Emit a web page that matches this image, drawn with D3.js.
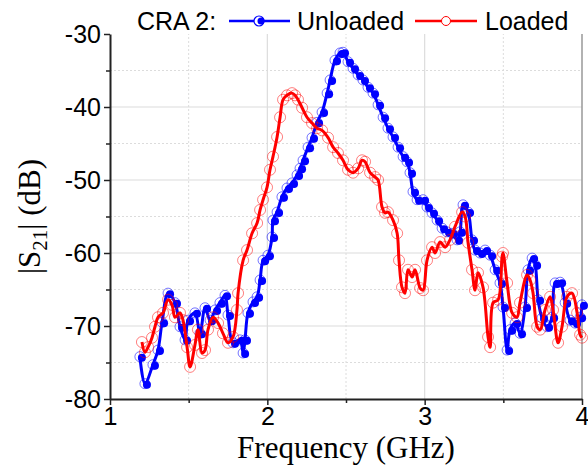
<!DOCTYPE html>
<html>
<head>
<meta charset="utf-8">
<script src="https://cdn.jsdelivr.net/npm/d3@7"></script>
<style>
  body { margin: 0; background: #fff; }
  svg { display: block; }
</style>
</head>
<body>
<svg width="588" height="468"></svg>
<script>
// Unloaded (blue)
var unloadedFreq = [1.19, 1.222, 1.273, 1.305, 1.331, 1.369, 1.413, 1.445, 1.477, 1.496, 1.540, 1.572, 1.604, 1.636, 1.668, 1.699, 1.731, 1.750, 1.782, 1.826, 1.846, 1.858, 1.877, 1.909, 1.935, 1.954, 1.973, 2.004, 2.030, 2.036, 2.062, 2.093, 2.125, 2.157, 2.189, 2.208, 2.227, 2.259, 2.284, 2.316, 2.348, 2.380, 2.399, 2.430, 2.462, 2.481, 2.513, 2.545, 2.577, 2.608, 2.640, 2.672, 2.704, 2.736, 2.767, 2.799, 2.831, 2.863, 2.888, 2.907, 2.926, 2.952, 2.990, 3.015, 3.047, 3.079, 3.111, 3.142, 3.174, 3.206, 3.225, 3.244, 3.276, 3.301, 3.320, 3.352, 3.384, 3.416, 3.448, 3.479, 3.498, 3.524, 3.543, 3.575, 3.606, 3.638, 3.657, 3.683, 3.702, 3.721, 3.746, 3.778, 3.810, 3.829, 3.861, 3.893, 3.924, 3.956, 3.988, 4.0];
var unloadedS21 = [-74.2, -77.9, -75.3, -73.3, -69.5, -65.5, -66.8, -70.1, -71.9, -69.2, -68.2, -71.0, -67.5, -69.2, -67.8, -66.8, -65.8, -68.5, -72.3, -71.9, -73.7, -71.9, -68.2, -66.7, -66.0, -63.7, -61.0, -60.3, -57.8, -55.5, -54.4, -52.3, -51.1, -50.4, -49.3, -48.4, -47.3, -45.5, -44.2, -42.1, -40.7, -38.1, -36.3, -33.6, -32.6, -32.5, -33.8, -34.7, -35.6, -36.3, -37.3, -38.1, -39.7, -41.4, -42.9, -44.1, -45.5, -46.8, -47.5, -49.0, -51.6, -52.7, -52.7, -53.7, -54.5, -55.5, -56.6, -57.1, -57.3, -58.2, -57.1, -53.4, -54.4, -58.2, -59.6, -60.0, -59.6, -60.3, -62.3, -64.1, -67.4, -73.3, -70.5, -69.6, -71.0, -67.4, -62.3, -60.7, -61.6, -66.4, -68.9, -70.1, -68.8, -64.1, -64.0, -66.8, -69.2, -69.6, -68.8, -67.1];

// Loaded (red)
var loadedFreq = [1.203, 1.222, 1.242, 1.267, 1.286, 1.305, 1.337, 1.369, 1.394, 1.413, 1.445, 1.464, 1.490, 1.509, 1.540, 1.559, 1.585, 1.604, 1.623, 1.655, 1.687, 1.718, 1.750, 1.782, 1.807, 1.814, 1.846, 1.871, 1.903, 1.935, 1.954, 1.973, 1.998, 2.017, 2.036, 2.062, 2.081, 2.100, 2.125, 2.157, 2.176, 2.195, 2.221, 2.252, 2.284, 2.316, 2.348, 2.386, 2.418, 2.449, 2.481, 2.513, 2.545, 2.577, 2.602, 2.621, 2.653, 2.685, 2.704, 2.729, 2.748, 2.767, 2.799, 2.825, 2.837, 2.856, 2.875, 2.894, 2.920, 2.939, 2.971, 2.990, 3.015, 3.047, 3.066, 3.098, 3.130, 3.161, 3.193, 3.238, 3.257, 3.276, 3.301, 3.320, 3.339, 3.371, 3.403, 3.416, 3.435, 3.467, 3.492, 3.498, 3.524, 3.556, 3.587, 3.606, 3.651, 3.670, 3.689, 3.715, 3.734, 3.765, 3.797, 3.816, 3.848, 3.873, 3.905, 3.937, 3.969, 3.988, 4.0];
var loadedS21 = [-72.2, -73.6, -72.9, -71.6, -70.1, -68.8, -68.2, -66.4, -67.1, -68.8, -68.2, -69.2, -72.9, -75.6, -72.6, -70.5, -73.7, -73.3, -70.5, -68.8, -69.6, -71.0, -72.3, -71.5, -67.8, -65.5, -61.0, -59.6, -57.3, -55.9, -54.1, -52.7, -51.0, -48.6, -46.8, -44.1, -41.4, -39.0, -38.4, -38.1, -38.4, -39.0, -40.1, -41.4, -42.2, -42.9, -43.2, -44.2, -45.5, -46.3, -47.3, -48.6, -49.0, -48.4, -47.3, -47.5, -49.0, -49.6, -50.0, -53.7, -54.5, -54.4, -55.5, -57.3, -61.0, -64.7, -65.5, -62.3, -63.3, -62.3, -64.8, -65.1, -61.0, -59.2, -60.0, -58.5, -59.2, -58.2, -56.4, -54.4, -55.0, -58.6, -62.3, -65.1, -62.7, -64.7, -71.5, -72.9, -66.8, -66.4, -60.5, -60.0, -64.1, -68.2, -68.8, -66.8, -63.0, -63.7, -65.5, -70.1, -70.5, -67.8, -66.0, -67.8, -72.3, -70.1, -66.0, -65.5, -68.2, -71.2, -71.6];

var xTicks = [1, 2, 3, 4];
var xMinor = [1.5, 2.5, 3.5];
var yTicks = [-30, -40, -50, -60, -70, -80];
var yMinor = [-35, -45, -55, -65, -75];

var svg = d3.select("svg");
var margin = {left: 110, right: 6, top: 34, bottom: 69};
var W = 588, H = 468;

var x = d3.scaleLinear().domain([1, 4]).range([margin.left, W - margin.right]);
var y = d3.scaleLinear().domain([-80, -30]).range([H - margin.bottom, margin.top]);

// grid
var grid = svg.append("g");
grid.selectAll(".vmaj").data([2, 3]).enter().append("line")
  .attr("x1", d => x(d)).attr("x2", d => x(d))
  .attr("y1", y(-80)).attr("y2", y(-30))
  .attr("stroke", "#dcdcdc").attr("stroke-width", 1.2);
grid.selectAll(".vmin").data(xMinor).enter().append("line")
  .attr("x1", d => x(d)).attr("x2", d => x(d))
  .attr("y1", y(-80)).attr("y2", y(-30))
  .attr("stroke", "#dcdcdc").attr("stroke-dasharray", "2,2");
grid.selectAll(".hmaj").data([-40, -50, -60, -70]).enter().append("line")
  .attr("x1", x(1)).attr("x2", x(4))
  .attr("y1", d => y(d)).attr("y2", d => y(d))
  .attr("stroke", "#dcdcdc").attr("stroke-width", 1.2);
grid.selectAll(".hmin").data(yMinor).enter().append("line")
  .attr("x1", x(1)).attr("x2", x(4))
  .attr("y1", d => y(d)).attr("y2", d => y(d))
  .attr("stroke", "#dcdcdc").attr("stroke-dasharray", "2,2");

// right frame line
svg.append("line")
  .attr("x1", x(4)).attr("x2", x(4)).attr("y1", y(-30)).attr("y2", y(-80))
  .attr("stroke", "#999").attr("stroke-width", 1.5);

// series
var unloaded = unloadedFreq.map((f, i) => [f, unloadedS21[i]]);
var loaded = loadedFreq.map((f, i) => [f, loadedS21[i]]);

var line = d3.line()
  .x(d => x(d[0])).y(d => y(d[1]))
  .curve(d3.curveCatmullRom.alpha(0.5));

var gB = svg.append("g");
gB.append("path").datum(unloaded)
  .attr("d", line).attr("fill", "none")
  .attr("stroke", "#0000ff").attr("stroke-width", 3);
gB.selectAll(".o").data(unloaded).enter().append("circle")
  .attr("cx", d => x(d[0])).attr("cy", d => y(d[1])).attr("r", 5)
  .attr("fill", "none").attr("stroke", "#0000ff").attr("stroke-opacity", 0.55);
gB.selectAll(".f").data(unloaded).enter().append("circle")
  .attr("cx", d => x(d[0]) + 2).attr("cy", d => y(d[1]) + 1).attr("r", 4)
  .attr("fill", "#0000ff");

var gR = svg.append("g");
gR.append("path").datum(loaded)
  .attr("d", line).attr("fill", "none")
  .attr("stroke", "#ff0000").attr("stroke-width", 3);
gR.selectAll(".o").data(loaded).enter().append("circle")
  .attr("cx", d => x(d[0])).attr("cy", d => y(d[1])).attr("r", 5.5)
  .attr("fill", "none").attr("stroke", "#ff0000").attr("stroke-opacity", 0.5);

// axes
var xAxis = svg.append("g").attr("transform", "translate(0," + y(-80) + ")")
  .call(d3.axisBottom(x).tickValues(xTicks).tickFormat(d => String(d)).tickSize(6).tickSizeOuter(0));
svg.append("g").attr("transform", "translate(0," + y(-80) + ")")
  .call(d3.axisBottom(x).tickValues(xMinor).tickFormat("").tickSize(4).tickSizeOuter(0))
  .select(".domain").remove();
var yAxis = svg.append("g").attr("transform", "translate(" + x(1) + ",0)")
  .call(d3.axisLeft(y).tickValues(yTicks).tickFormat(d => String(d)).tickSize(6).tickSizeOuter(0));
svg.append("g").attr("transform", "translate(" + x(1) + ",0)")
  .call(d3.axisLeft(y).tickValues(yMinor).tickFormat("").tickSize(4).tickSizeOuter(0))
  .select(".domain").remove();

svg.selectAll(".domain").attr("stroke", "#222").attr("stroke-width", 2);
svg.selectAll(".tick line").attr("stroke", "#222").attr("stroke-width", 1.5);
xAxis.selectAll("text").attr("font-family", "Liberation Sans, Arial, sans-serif")
  .attr("font-size", 25).attr("fill", "#000").attr("y", 8).attr("dy", "0.72em");
yAxis.selectAll("text").attr("font-family", "Liberation Sans, Arial, sans-serif")
  .attr("font-size", 25).attr("fill", "#000").attr("x", -9);

// axis titles
svg.append("text")
  .attr("x", (x(1) + x(4)) / 2).attr("y", 458)
  .attr("text-anchor", "middle")
  .attr("font-family", "Liberation Serif, Times New Roman, serif")
  .attr("font-size", 31)
  .text("Frequency (GHz)");

var yl = svg.append("text")
  .attr("transform", "translate(40," + ((y(-30) + y(-80)) / 2) + ") rotate(-90)")
  .attr("text-anchor", "middle")
  .attr("font-family", "Liberation Serif, Times New Roman, serif")
  .attr("font-size", 31);
yl.append("tspan").text("|S");
yl.append("tspan").attr("font-size", 21).attr("dy", 7).text("21");
yl.append("tspan").attr("dy", -7).text("| (dB)");

// legend
var lg = svg.append("g").attr("font-family", "Liberation Sans, Arial, sans-serif").attr("font-size", 25);
lg.append("text").attr("x", 137).attr("y", 30).text("CRA 2:");
lg.append("line").attr("x1", 229).attr("x2", 290).attr("y1", 21).attr("y2", 21)
  .attr("stroke", "#0000ff").attr("stroke-width", 2.5);
lg.append("circle").attr("cx", 259).attr("cy", 21).attr("r", 5)
  .attr("fill", "#fff").attr("stroke", "#0000ff").attr("stroke-width", 1.2);
lg.append("circle").attr("cx", 261).attr("cy", 21).attr("r", 3.5).attr("fill", "#0000ff");
lg.append("text").attr("x", 297).attr("y", 30).text("Unloaded");
lg.append("line").attr("x1", 415).attr("x2", 477).attr("y1", 21).attr("y2", 21)
  .attr("stroke", "#ff0000").attr("stroke-width", 2.5);
lg.append("circle").attr("cx", 446).attr("cy", 21).attr("r", 4.5)
  .attr("fill", "#fff").attr("stroke", "#ff0000").attr("stroke-width", 1);
lg.append("text").attr("x", 485).attr("y", 30).text("Loaded");
</script>
</body>
</html>
